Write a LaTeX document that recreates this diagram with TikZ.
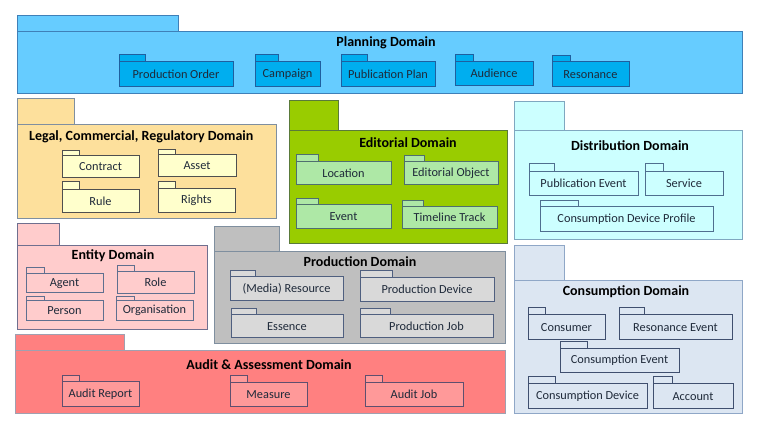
\documentclass[tikz,border=0pt]{standalone}
\usepackage{fontspec}
\setmainfont{Carlito}
\usetikzlibrary{fit}
\definecolor{planF}{HTML}{66CCFF}\definecolor{planD}{HTML}{3F80B8}
\definecolor{planSF}{HTML}{00AEEF}\definecolor{planSD}{HTML}{1F5F9F}
\definecolor{legF}{HTML}{FDE09C}\definecolor{legD}{HTML}{7F8FA0}
\definecolor{legSF}{HTML}{FFFFCC}\definecolor{legSD}{HTML}{4F4F4F}
\definecolor{edF}{HTML}{99CC00}\definecolor{edD}{HTML}{5A7A3A}
\definecolor{edSF}{HTML}{AEE8A6}\definecolor{edSD}{HTML}{4F6F6F}
\definecolor{diF}{HTML}{CCFFFF}\definecolor{diD}{HTML}{7FA7C0}
\definecolor{diSF}{HTML}{CCFFFF}\definecolor{diSD}{HTML}{4F6F8F}
\definecolor{enF}{HTML}{FFCCCC}\definecolor{enD}{HTML}{6F6F8F}
\definecolor{enSF}{HTML}{FFCCCC}\definecolor{enSD}{HTML}{5F6F8F}
\definecolor{prF}{HTML}{BFBFBF}\definecolor{prD}{HTML}{7F8F9F}
\definecolor{prSF}{HTML}{D9D9D9}\definecolor{prSD}{HTML}{4F5F7F}
\definecolor{auF}{HTML}{FF8080}\definecolor{auD}{HTML}{A0A0B0}
\definecolor{auSF}{HTML}{FF9999}\definecolor{auSD}{HTML}{5F4F6F}
\definecolor{coF}{HTML}{DCE6F2}\definecolor{coD}{HTML}{8FA7C7}
\definecolor{coSF}{HTML}{DCE6F2}\definecolor{coSD}{HTML}{3F4F6F}
\definecolor{subtext}{HTML}{1F2A3A}
% #1 name, #2 style, #3 x1, #4 tab top, #5 tab right, #6 body top, #7 x2, #8 y2
\newcommand\pkgbox[8]{%
  \draw[#2] (#3,-#4) rectangle (#5,-#6);
  \node[fit={(#3,-#6) (#7,-#8)}, inner sep=0pt, rectangle, #2] (#1) {};
}
% sub package with centred label
\newcommand\subpkg[9]{%
  \pkgbox{#1}{#2}{#3}{#4}{#5}{#6}{#7}{#8}
  \node[sublabel] (#1-l) at (#1.center) {#9};
}
\tikzset{
  pk/.style={line width=0.8pt},
  sublabel/.style={font=\fontsize{12.3}{14}\selectfont, text=subtext, inner sep=0pt, yshift=-0.7pt},
  title/.style={font=\fontsize{14}{16}\selectfont\bfseries, text=black, inner sep=0pt},
  plan/.style={pk, fill=planF, draw=planD}, planS/.style={pk, fill=planSF, draw=planSD},
  leg/.style={pk, fill=legF, draw=legD}, legS/.style={pk, fill=legSF, draw=legSD},
  ed/.style={pk, fill=edF, draw=edD}, edS/.style={pk, fill=edSF, draw=edSD},
  di/.style={pk, fill=diF, draw=diD}, diS/.style={pk, fill=diSF, draw=diSD},
  en/.style={pk, fill=enF, draw=enD}, enS/.style={pk, fill=enSF, draw=enSD},
  pr/.style={pk, fill=prF, draw=prD}, prS/.style={pk, fill=prSF, draw=prSD},
  au/.style={pk, fill=auF, draw=auD}, auS/.style={pk, fill=auSF, draw=auSD},
  co/.style={pk, fill=coF, draw=coD}, coS/.style={pk, fill=coSF, draw=coSD},
}
\begin{document}
\begin{tikzpicture}[x=1pt,y=1pt]
\useasboundingbox[fill=white] (0,0) rectangle (758,-427);
% Planning
\pkgbox{planning}{plan}{17}{15}{178}{31}{742}{93}
\node[title] (planning-t) at (386,-43) {Planning Domain};
\subpkg{po}{planS}{119}{54}{145}{61}{233}{86}{Production Order}
\subpkg{camp}{planS}{255}{54}{278}{61}{320}{86}{Campaign}
\subpkg{pubplan}{planS}{341}{54}{367}{61}{435}{86}{Publication Plan}
\subpkg{aud}{planS}{455}{54}{473}{61}{533}{85}{Audience}
\subpkg{reso}{planS}{552}{55}{570}{61}{629}{86}{Resonance}
% Legal
\pkgbox{legal}{leg}{17}{98}{74}{124}{276}{218}
\node[title, anchor=west] (legal-t) at (29,-137) {Legal, Commercial, Regulatory Domain};
\subpkg{contract}{legS}{62}{150}{79}{155}{139}{177}{Contract}
\subpkg{asset}{legS}{158}{149}{175}{154}{236}{176}{Asset}
\subpkg{rule}{legS}{62}{181}{79}{189}{139}{212}{Rule}
\subpkg{rights}{legS}{158}{181}{175}{188}{235}{212}{Rights}
% Editorial
\pkgbox{editorial}{ed}{289}{100}{338}{130}{507}{243}
\node[title] (editorial-t) at (408,-143) {Editorial Domain};
\subpkg{loc}{edS}{296}{154}{318}{161}{391}{184}{Location}
\subpkg{edobj}{edS}{404}{155}{424}{161}{498}{184}{Editorial Object}
\subpkg{event}{edS}{296}{198}{318}{204}{391}{228}{Event}
\subpkg{tltrack}{edS}{402}{200}{423}{206}{497}{228}{Timeline Track}
% Distribution
\pkgbox{distribution}{di}{514}{101}{564}{130}{742}{239}
\node[title] (distribution-t) at (630,-146) {Distribution Domain};
\subpkg{pubevent}{diS}{529}{163}{554}{171}{638}{195}{Publication Event}
\subpkg{service}{diS}{645}{163}{663}{171}{723}{195}{Service}
\subpkg{cdp}{diS}{540}{200}{578}{206}{713}{231}{Consumption Device Profile}
% Entity
\pkgbox{entity}{en}{17}{223}{59}{245}{207}{329}
\node[title] (entity-t) at (113,-256) {Entity Domain};
\subpkg{agent}{enS}{26}{267}{44}{273}{103}{292}{Agent}
\subpkg{role}{enS}{117}{265}{134}{271}{194}{293}{Role}
\subpkg{person}{enS}{26}{296}{44}{300}{103}{320}{Person}
\subpkg{org}{enS}{116}{296}{134}{300}{193}{320}{Organisation}
% Production
\pkgbox{production}{pr}{214}{226}{279}{251}{505}{343}
\node[title] (production-t) at (360,-262) {Production Domain};
\subpkg{mediares}{prS}{230}{270}{255}{276}{343}{300}{(Media) Resource}
\subpkg{proddev}{prS}{360}{270}{392}{277}{494}{301}{Production Device}
\subpkg{essence}{prS}{231}{308}{256}{314}{343}{337}{Essence}
\subpkg{prodjob}{prS}{360}{308}{390}{314}{493}{337}{Production Job}
% Audit
\pkgbox{audit}{au}{15}{334}{124}{350}{505}{413}
\node[title] (audit-t) at (269,-365) {Audit \& Assessment Domain};
\subpkg{auditrep}{auS}{62}{375}{79}{381}{139}{406}{Audit Report}
\subpkg{measure}{auS}{230}{375}{247}{382}{307}{406}{Measure}
\subpkg{auditjob}{auS}{365}{375}{382}{382}{463}{406}{Audit Job}
% Consumption
\pkgbox{consumption}{co}{514}{245}{564}{280}{742}{413}
\node[title] (consumption-t) at (626,-292) {Consumption Domain};
\subpkg{consumer}{coS}{528}{307}{545}{314}{605}{339}{Consumer}
\subpkg{resevent}{coS}{619}{307}{644}{314}{732}{339}{Resonance Event}
\subpkg{consevent}{coS}{560}{341}{587}{348}{679}{372}{Consumption Event}
\subpkg{consdev}{coS}{528}{376}{555}{383}{647}{408}{Consumption Device}
\subpkg{account}{coS}{653}{376}{672}{383}{733}{408}{Account}
\end{tikzpicture}
\end{document}
